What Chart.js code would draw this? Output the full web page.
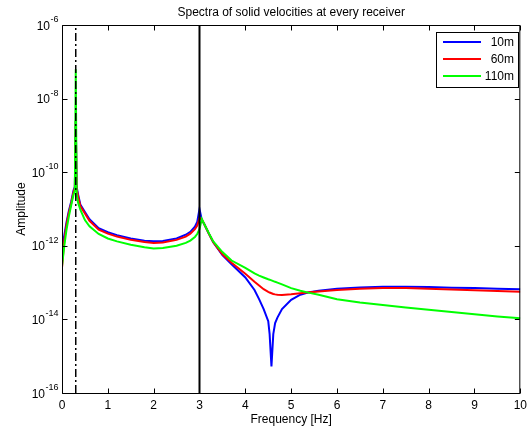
<!DOCTYPE html>
<html><head><meta charset="utf-8">
<script src="https://cdn.jsdelivr.net/npm/chart.js@4/dist/chart.umd.min.js"></script>
<style>html,body{margin:0;padding:0;background:#fff;}</style>
</head><body>
<canvas id="c" width="532" height="430"></canvas>
<script>
const frequencies = [0,0.05,0.1,0.15,0.2,0.25,0.28,0.3,0.32,0.35,0.4,0.5,0.6,0.8,1.0,1.2,1.5,1.8,2.0,2.2,2.5,2.7,2.8,2.9,2.95,3.0,3.05,3.1,3.2,3.3,3.5,3.7,4.0,4.2,4.3,4.4,4.5,4.53,4.57,4.61,4.65,4.7,4.8,5.0,5.2,5.4,5.6,6.0,6.5,7.0,7.5,8.0,8.5,9.0,9.5,10];
const amp10m = [8.91e-13,1.91e-12,4.47e-12,8.91e-12,1.58e-11,3.16e-11,3.98e-11,2.51e-9,3.98e-11,2.51e-11,1.32e-11,8.32e-12,5.25e-12,3.02e-12,2.34e-12,1.95e-12,1.58e-12,1.38e-12,1.32e-12,1.35e-12,1.58e-12,2.00e-12,2.40e-12,3.31e-12,4.47e-12,1.00e-11,5.01e-12,3.98e-12,2.19e-12,1.26e-12,5.62e-13,3.16e-13,1.38e-13,6.31e-14,3.55e-14,1.91e-14,8.91e-15,3.98e-15,5.25e-16,3.98e-15,7.94e-15,1.12e-14,1.91e-14,3.39e-14,4.68e-14,5.50e-14,6.03e-14,6.76e-14,7.41e-14,7.76e-14,7.76e-14,7.59e-14,7.24e-14,7.08e-14,6.76e-14,6.61e-14];
const amp60m = [2.51e-13,1.41e-12,3.80e-12,7.94e-12,1.41e-11,2.82e-11,3.72e-11,2.51e-9,3.55e-11,2.24e-11,1.20e-11,7.59e-12,4.79e-12,2.75e-12,2.14e-12,1.78e-12,1.45e-12,1.26e-12,1.20e-12,1.23e-12,1.45e-12,1.78e-12,2.14e-12,2.82e-12,3.55e-12,5.62e-12,5.25e-12,3.98e-12,2.19e-12,1.26e-12,5.89e-13,3.47e-13,1.74e-13,1.05e-13,8.32e-14,6.61e-14,5.62e-14,5.37e-14,5.13e-14,4.90e-14,4.79e-14,4.68e-14,4.57e-14,4.79e-14,5.13e-14,5.50e-14,5.75e-14,6.31e-14,6.76e-14,7.08e-14,7.08e-14,6.76e-14,6.46e-14,6.17e-14,5.89e-14,5.62e-14];
const amp110m = [2.82e-13,1.00e-12,2.82e-12,6.31e-12,1.26e-11,2.40e-11,3.16e-11,6.31e-8,2.51e-11,1.51e-11,9.55e-12,5.01e-12,3.39e-12,2.09e-12,1.58e-12,1.32e-12,1.07e-12,9.12e-13,8.51e-13,8.71e-13,1.00e-12,1.20e-12,1.38e-12,1.74e-12,2.09e-12,2.82e-12,5.37e-12,3.98e-12,2.24e-12,1.32e-12,6.76e-13,3.98e-13,2.51e-13,1.78e-13,1.55e-13,1.38e-13,1.23e-13,1.20e-13,1.15e-13,1.10e-13,1.05e-13,1.00e-13,8.91e-14,7.08e-14,6.03e-14,5.25e-14,4.68e-14,3.55e-14,2.88e-14,2.45e-14,2.09e-14,1.82e-14,1.58e-14,1.38e-14,1.20e-14,1.07e-14];
const seriesLabels = ['10m','60m','110m'];
const seriesColors = ['#0000ff','#ff0000','#00ff00'];
const markerFreqs = [0.3, 3];
const xTicks = [0,1,2,3,4,5,6,7,8,9,10];
const yTicks = [1e-16,1e-14,1e-12,1e-10,1e-8,1e-6];
const yTickExponents = ['-16','-14','-12','-10','-8','-6'];
const titleText = 'Spectra of solid velocities at every receiver';
const xTitle = 'Frequency [Hz]';
const yTitle = 'Amplitude';

const FONT = "'Liberation Sans', Arial, sans-serif";
Chart.defaults.font.family = FONT;
Chart.defaults.color = '#000';

const seriesData = [amp10m, amp60m, amp110m];
const datasets = seriesData.map((arr, k) => ({
  label: seriesLabels[k],
  data: frequencies.map((f, i) => ({x: f, y: arr[i]})),
  borderColor: seriesColors[k],
  backgroundColor: seriesColors[k],
  borderWidth: 2,
  pointRadius: 0,
  tension: 0,
  fill: false,
  order: 3 - k
}));
markerFreqs.forEach((f, k) => {
  datasets.push({
    label: 'marker' + k,
    isMarker: true,
    data: [{x: f, y: yTicks[0]}, {x: f, y: yTicks[yTicks.length - 1]}],
    borderColor: '#000',
    borderWidth: k === 0 ? 1.5 : 2,
    borderDash: k === 0 ? [8, 3, 2, 3] : [],
    pointRadius: 0,
    fill: false,
    order: 0
  });
});

const framePlugin = {
  id: 'frame',
  afterDraw(chart) {
    const {ctx, chartArea: a, scales: {x, y}} = chart;
    ctx.save();
    ctx.strokeStyle = '#000';
    ctx.lineWidth = 1;
    const L = a.left + 0.5, R = a.right - 0.5, T = a.top + 0.5, B = a.bottom + 0.5;
    ctx.beginPath();
    ctx.moveTo(L, T); ctx.lineTo(R, T); ctx.lineTo(R, B); ctx.lineTo(L, B); ctx.closePath();
    const tl = 5;
    xTicks.forEach(v => {
      const px = Math.round(x.getPixelForValue(v)) + 0.5;
      ctx.moveTo(px, B); ctx.lineTo(px, B - tl);
      ctx.moveTo(px, T); ctx.lineTo(px, T + tl);
    });
    yTicks.forEach(v => {
      const py = Math.round(y.getPixelForValue(v)) + 0.5;
      ctx.moveTo(L, py); ctx.lineTo(L + tl, py);
      ctx.moveTo(R, py); ctx.lineTo(R - tl, py);
    });
    ctx.stroke();

    // y tick labels: "10" with superscript exponent
    ctx.fillStyle = '#000';
    ctx.textBaseline = 'alphabetic';
    ctx.textAlign = 'left';
    yTicks.forEach((v, i) => {
      const py = y.getPixelForValue(v);
      ctx.font = '9px ' + FONT;
      const ew = ctx.measureText(yTickExponents[i]).width;
      ctx.font = '12px ' + FONT;
      const bw = ctx.measureText('10').width;
      const right = a.left - 4;
      const xb = right - ew - bw;
      ctx.fillText('10', xb, py + 4.5);
      ctx.font = '9px ' + FONT;
      ctx.fillText(yTickExponents[i], xb + bw + 0.5, py - 3);
    });

    // legend
    const bx = 436.5, by = 32.5, bw = 82, bh = 55;
    ctx.fillStyle = '#fff';
    ctx.fillRect(bx, by, bw, bh);
    ctx.strokeStyle = '#000';
    ctx.lineWidth = 1;
    ctx.strokeRect(bx, by, bw, bh);
    const rows = [42, 59, 76];
    ctx.font = '12px ' + FONT;
    ctx.textAlign = 'right';
    ctx.textBaseline = 'middle';
    chart.data.datasets.filter(d => !d.isMarker).forEach((d, i) => {
      ctx.strokeStyle = d.borderColor;
      ctx.lineWidth = 2;
      ctx.beginPath();
      ctx.moveTo(443, rows[i]); ctx.lineTo(481, rows[i]);
      ctx.stroke();
      ctx.fillStyle = '#000';
      ctx.fillText(d.label, 514, rows[i] + 1);
    });
    ctx.restore();
  }
};

new Chart(document.getElementById('c'), {
  type: 'line',
  data: {datasets},
  plugins: [framePlugin],
  options: {
    responsive: false,
    animation: false,
    devicePixelRatio: 1,
    layout: {padding: {left: 0, right: 7, top: 0, bottom: 0}, autoPadding: false},
    plugins: {
      legend: {display: false},
      tooltip: {enabled: false},
      title: {
        display: true, text: titleText, fullSize: false,
        font: {size: 12, weight: 'normal', family: FONT}, color: '#000',
        padding: {top: 5, bottom: 5.6}
      }
    },
    scales: {
      x: {
        type: 'linear', min: 0, max: 10,
        afterBuildTicks: s => { s.ticks = xTicks.map(v => ({value: v})); },
        afterFit: s => { s.height = 37; },
        grid: {display: false, drawTicks: false},
        border: {display: false},
        ticks: {font: {size: 12}, color: '#000', padding: 5, maxRotation: 0, autoSkip: false},
        title: {display: true, text: xTitle, font: {size: 12}, color: '#000', padding: {top: 0, bottom: 3}}
      },
      y: {
        type: 'logarithmic', min: yTicks[0], max: yTicks[yTicks.length - 1],
        afterBuildTicks: s => { s.ticks = yTicks.map(v => ({value: v})); },
        afterFit: s => { s.width = 62; },
        grid: {display: false, drawTicks: false},
        border: {display: false},
        ticks: {display: false},
        title: {display: true, text: yTitle, font: {size: 12}, color: '#000', padding: {top: 14, bottom: 0}}
      }
    }
  }
});
</script>
</body></html>
